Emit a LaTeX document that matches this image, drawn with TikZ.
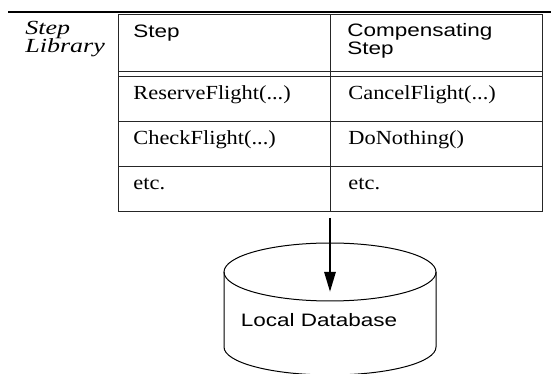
\documentclass[tikz,border=0pt]{standalone}
\usepackage{fontspec}
\setmainfont{Liberation Serif}[FakeStretch=1.12]
\setsansfont{Liberation Sans}[FakeStretch=1.25]
\newfontfamily\libfont{Liberation Serif}[FakeStretch=1.3]
\usetikzlibrary{arrows.meta}

% tight two-line labels: keep the baselineskip even when lines touch
\newcommand\tightlines{\lineskiplimit=-\maxdimen}

\tikzset{
  cell/.style={font=\fontsize{10}{8.5}\selectfont, anchor=base west, inner sep=0pt},
  head/.style={cell, font=\sffamily\fontsize{9}{9}\selectfont\tightlines, align=left},
  grid/.style={draw=black!85, line width=0.5pt},
}

\begin{document}
\begin{tikzpicture}[x=0.5pt, y=0.5pt]
  \useasboundingbox (0,0) rectangle (551,374);

  % rule over the library and its label
  \draw[line width=1pt] (8,362) -- (551,362);
  % (base of a two-line node sits on its last line)
  \node[cell, font=\libfont\itshape\fontsize{10}{9}\selectfont\tightlines, align=left]
      (library) at (25,321) {Step\\Library};

  % the step table
  \draw[grid] (118,162) rectangle (542,359);
  \draw[grid] (330,359) -- (330,162) coordinate (split);
  \draw[grid] (118,302.5) -- (542,302.5);
  \draw[grid] (118,297) -- (542,297);
  \foreach \y in {252.5, 207.5}
    \draw[grid] (118,\y) -- (542,\y);

  \node[head] (stephead) at (133,336) {Step};
  \node[head] (comphead) at (347,319) {Compensating\\Step};

  \foreach \i/\lft/\rgt in {1/{ReserveFlight(...)}/{CancelFlight(...)},
                            2/{CheckFlight(...)}/{DoNothing()},
                            3/{etc.}/{etc.}} {
    \node[cell] (step-\i) at (133,319-45*\i) {\lft};
    \node[cell] (comp-\i) at (348,319-45*\i) {\rgt};
  }

  % local database drum
  \draw[line width=0.5pt] (330,102) ellipse [x radius=106, y radius=29];
  \draw[line width=0.5pt] (224,102) -- (224,27)
      arc[start angle=180, end angle=360, x radius=106, y radius=28] -- (436,102);
  \coordinate (dbtop) at (330,82);
  \node[font=\sffamily\fontsize{9}{10}\selectfont, anchor=base, inner sep=0pt] (db)
      at (319,47) {Local Database};

  \draw[line width=1.4pt, -{Triangle[length=10pt, width=5.5pt]}]
      ([yshift=-3pt]split) -- (dbtop);
\end{tikzpicture}
\end{document}
